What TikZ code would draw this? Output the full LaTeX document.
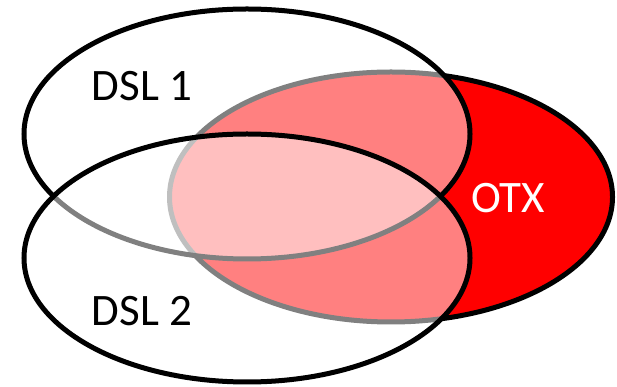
\documentclass[tikz,border=0pt]{standalone}
\usepackage{fontspec}
\setmainfont{Carlito}
\usepackage{tikz}

\tikzset{
    setline/.style={line width=5pt, draw=black},
    setlabel/.style={font=\fontsize{45}{50}\selectfont, inner sep=0pt},
}

\begin{document}
\begin{tikzpicture}
    \useasboundingbox (0,0) rectangle (617pt,387pt);

    % OTX: solid red set, drawn first so the others wash over it
    \coordinate (otx) at (391pt,190pt);
    \filldraw[setline, fill=red] (otx) ellipse [x radius=221.5pt, y radius=125pt];

    % DSL 1 and DSL 2: half-transparent white sets on top
    \coordinate (dsla) at (247pt,253pt);
    \coordinate (dslb) at (247pt,129pt);
    \filldraw[setline, fill=white, fill opacity=0.5] (dsla) ellipse [x radius=223pt, y radius=125pt];
    \filldraw[setline, fill=white, fill opacity=0.5] (dslb) ellipse [x radius=223pt, y radius=124pt];

    % Set labels
    \node[setlabel] (dslalabel) at (142pt,301pt) {DSL 1};
    \node[setlabel] (dslblabel) at (142pt,76pt) {DSL 2};
    \node[setlabel, text=white] (otxlabel) at (508pt,189pt) {OTX};
\end{tikzpicture}
\end{document}
